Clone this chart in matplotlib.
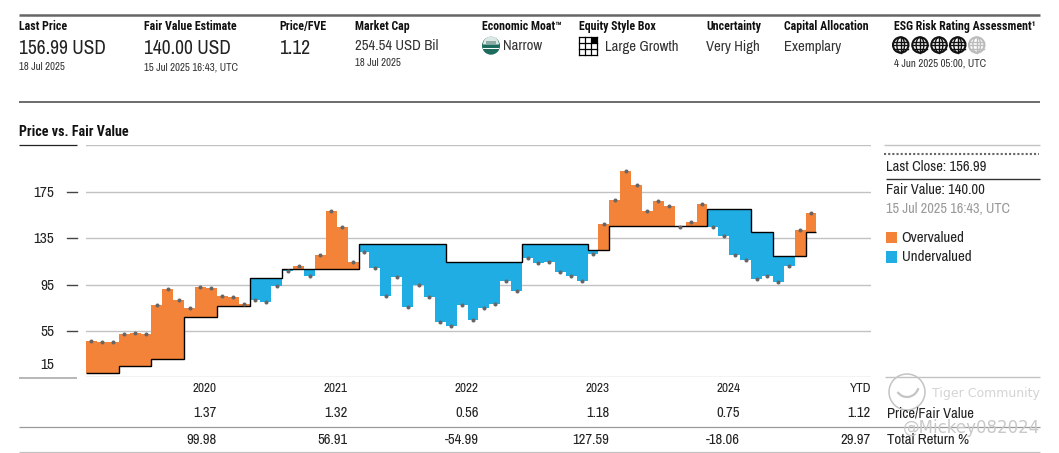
import logging
import matplotlib
matplotlib.use("Agg")
import matplotlib.pyplot as plt
import matplotlib.patches as patches
import numpy as np

logging.getLogger("matplotlib.font_manager").setLevel(logging.ERROR)
plt.rcParams['font.family'] = ['Archivo Narrow', 'Roboto Condensed', 'Roboto', 'DejaVu Sans']
BOLD_FAMILY = ['Roboto Condensed', 'Roboto', 'DejaVu Sans']

# month by month values
price = [46.6, 45.1, 45.1, 52.0, 53.2, 52.0, 77.0, 90.8, 81.6, 74.7, 92.6, 91.7,
         85.4, 84.2, 78.2, 81.4, 79.6, 93.7, 106.4, 110.7, 102.3, 120.4, 158.4, 144.3,
         114.1, 123.3, 108.9, 85.1, 101.8, 75.9, 94.3, 84.5, 63.0, 59.5, 77.0, 64.4,
         74.7, 77.9, 97.7, 89.1, 118.1, 113.8, 114.1, 105.8, 102.6, 98.0, 121.3, 147.4,
         167.8, 192.8, 180.8, 158.4, 167.0, 162.7, 144.6, 148.6, 164.4, 144.3, 137.1, 120.7,
         115.8, 99.5, 102.6, 96.9, 110.7, 141.7, 156.99]
fair_value = [18.4, 18.4, 18.4, 24.7, 24.7, 24.7, 30.8, 30.8, 30.8, 66.7, 66.7, 66.7,
              76.8, 76.8, 76.8, 100.9, 100.9, 100.9, 108.6, 108.6, 108.6, 108.6, 108.6, 108.6,
              108.6, 129.9, 129.9, 129.9, 129.9, 129.9, 129.9, 129.9, 129.9, 114.7, 114.7, 114.7,
              114.7, 114.7, 114.7, 114.7, 129.9, 129.9, 129.9, 129.9, 129.9, 129.9, 124.7, 124.7,
              145.2, 145.2, 145.2, 145.2, 145.2, 145.2, 145.2, 145.2, 145.2, 160.1, 160.1, 160.1,
              160.1, 140.3, 140.3, 119.8, 119.8, 119.8, 140.0]
y_ticks = [15, 55, 95, 135, 175, 215]
y_labels = ["15", "55", "95", "135", "175", ""]

years = ["2020", "2021", "2022", "2023", "2024", "YTD"]
price_fair = ["1.37", "1.32", "0.56", "1.18", "0.75", "1.12"]
total_return = ["99.98", "56.91", "-54.99", "127.59", "-18.06", "29.97"]

ORANGE = "#F4833A"
BLUE = "#1FADE4"
GRID = "#c2c2c2"
W, H = 1059, 453

fig = plt.figure(figsize=(W / 100, H / 100), dpi=100)

# Overlay in pixel coordinates for everything around the chart
over = fig.add_axes([0, 0, 1, 1])
over.set_xlim(0, W)
over.set_ylim(H, 0)
over.axis("off")

# Chart
left, right, top, bottom = 86, 871, 145.3, 377.3
ax = fig.add_axes([left / W, 1 - bottom / H, (right - left) / W, (bottom - top) / H])
ax.patch.set_alpha(0)
ax.set_xlim(0, 72)
ax.set_ylim(15, 215)
for spine in ax.spines.values():
    spine.set_visible(False)
ax.set_xticks([])
ax.set_yticks(y_ticks)
ax.set_yticklabels([])
ax.tick_params(length=0)
ax.grid(axis="y", color=GRID, linewidth=1.0, zorder=0)
ax.set_axisbelow(True)

price = np.array(price)
fair_value = np.array(fair_value)
months = np.arange(len(price))
colors = [ORANGE if p >= f else BLUE for p, f in zip(price, fair_value)]
ax.bar(months, price - fair_value, bottom=fair_value, width=1, align="edge", color=colors, zorder=2)
ax.stairs(fair_value, np.arange(len(price) + 1), color="black", linewidth=1.0, baseline=None, zorder=3)
ax.plot(months + 0.5, price, linestyle="", marker="o", markersize=1.9, color="#666666", zorder=4)

# Axis labels and short dashes, the dashes stand off from the gridlines
dash_trans = ax.get_yaxis_transform()
for value, label in zip(y_ticks, y_labels):
    if not label:
        continue
    offset = -1
    if value == 15:
        offset = 12
    else:
        ax.plot([-19 / 785, -9 / 785], [value, value], transform=dash_trans, color="#444444",
                linewidth=1, clip_on=False)
    ax.annotate(label, (0, value), xycoords=dash_trans, xytext=(-23, offset * 0.72), textcoords="offset points",
                ha="right", va="center", fontsize=11, color="#222222")


def line(x0, x1, y, color=GRID, lw=1.0):
    over.plot([x0, x1], [y, y], color=color, linewidth=lw, solid_capstyle="butt")


# Header
line(19, 1040, 15, color="#666666", lw=1.8)
line(19, 1040, 102, color="#444444", lw=1.1)
line(19, 77, 145, color="#222222", lw=0.9)
line(884, 1040, 145)
line(886, 1040, 179, color="#333333", lw=1.0)
line(19, 77, 377.5, color="#aaaaaa", lw=1.2)
line(885, 1040, 377)
line(19, 1040, 426.7, color="#999999", lw=0.9)
line(19, 1040, 452, color=GRID, lw=0.9)
over.plot([884, 1039], [154.3, 154.3], color="#666666", linewidth=1.5, linestyle=(0, (1, 1)))

for x, title in [(19, "Last Price"), (144.5, "Fair Value Estimate"), (279.5, "Price/FVE"), (355, "Market Cap"),
                 (482.5, "Economic Moat™"), (579, "Equity Style Box"), (706.5, "Uncertainty"),
                 (784, "Capital Allocation"), (894, "ESG Risk Rating Assessment¹")]:
    over.text(x, 26.7, title, fontsize=8.6, family=BOLD_FAMILY, fontweight="bold", ha="left", va="center", color="#111111")
for x, value in [(19, "156.99 USD"), (144.5, "140.00 USD"), (279.5, "1.12")]:
    over.text(x, 48, value, fontsize=14, ha="left", va="center", color="#222222")
for x, value in [(355, "254.54 USD Bil"), (503, "Narrow"), (605, "Large Growth"), (706.5, "Very High"), (784, "Exemplary")]:
    over.text(x, 46.5, value, fontsize=10.6, ha="left", va="center", color="#333333")
for x, y, value in [(19, 67, "18 Jul 2025"), (144.5, 67, "15 Jul 2025 16:43, UTC"), (355, 63, "18 Jul 2025"),
                    (894, 64, "4 Jun 2025 05:00, UTC")]:
    over.text(x, y, value, fontsize=7.8, ha="left", va="center", color="#333333")
over.text(19, 131.7, "Price vs. Fair Value", fontsize=10.2, family=BOLD_FAMILY, fontweight="bold", ha="left", va="center", color="#111111")

# Moat icon
over.add_patch(patches.Circle((491, 45.7), 9, facecolor="#1d6b5c", edgecolor="none"))
over.add_patch(patches.Wedge((491, 44.5), 8, 180, 360, facecolor="#dbe8e5", edgecolor="none"))
over.add_patch(patches.Rectangle((486, 41), 10, 3, facecolor="#8fa9a3", edgecolor="none"))
over.add_patch(patches.Rectangle((483, 47.5), 16, 1.4, facecolor="white", edgecolor="none"))

# Style box, 3x3 with the top right cell filled
over.add_patch(patches.Rectangle((591, 36.5), 6, 6, facecolor="black", edgecolor="none"))
for k in range(4):
    over.plot([579 + 6 * k, 579 + 6 * k], [36.5, 54.5], color="black", linewidth=0.9)
    over.plot([579, 597], [36.5 + 6 * k, 36.5 + 6 * k], color="black", linewidth=0.9)

# ESG globes
for k, cx in enumerate([900.7, 920, 939, 957.7, 976.7]):
    col = "#111111" if k < 4 else "#bbbbbb"
    over.add_patch(patches.Circle((cx, 45), 7.7, facecolor="none", edgecolor=col, linewidth=1.5))
    over.add_patch(patches.Ellipse((cx, 45), 7.7, 15.4, facecolor="none", edgecolor=col, linewidth=1.0))
    over.plot([cx, cx], [37.3, 52.7], color=col, linewidth=1.0)
    for dy in (-3.5, 0, 3.5):
        half = np.sqrt(7.7 ** 2 - dy ** 2)
        over.plot([cx - half, cx + half], [45 + dy, 45 + dy], color=col, linewidth=1.0)

# Right hand panel
over.text(886, 166.7, "Last Close: 156.99", fontsize=10.5, ha="left", va="center", color="#222222")
over.text(886, 190, "Fair Value: 140.00", fontsize=10.5, ha="left", va="center", color="#222222")
over.text(886, 209, "15 Jul 2025 16:43, UTC", fontsize=10.3, ha="left", va="center", color="#9a9a9a")
for y, c, label in [(237.5, ORANGE, "Overvalued"), (257, BLUE, "Undervalued")]:
    over.add_patch(patches.Rectangle((886, y - 5.7), 11.3, 11.4, facecolor=c, edgecolor="none"))
    over.text(901.7, y, label, fontsize=10.8, ha="left", va="center", color="#222222")

# Table under the chart, right edges sit on the year boundaries
for i in range(len(years)):
    x_right = left + 785 / 72 * 12 * (i + 1)
    over.text(x_right, 389, years[i], fontsize=9.5, ha="right", va="center", color="#222222")
    over.text(x_right, 413, price_fair[i], fontsize=10.5, ha="right", va="center", color="#222222")
    over.text(x_right, 440, total_return[i], fontsize=10.5, ha="right", va="center", color="#222222")
over.text(887, 413, "Price/Fair Value", fontsize=10.5, ha="left", va="center", color="#222222")
over.text(887, 440, "Total Return %", fontsize=10.8, ha="left", va="center", color="#222222")

# Watermark
over.add_patch(patches.Circle((907, 392), 18, facecolor="none", edgecolor="#c4c4c4", linewidth=1.1))
over.add_patch(patches.Arc((907, 384), 24, 26, theta1=20, theta2=140, edgecolor="#c4c4c4", linewidth=1.6))
over.text(932, 394, "Tiger Community", fontsize=9, family="DejaVu Sans", ha="left", va="center", color="#d4d4d4")
over.text(903, 428, "@Mickey082024", fontsize=12, family="DejaVu Sans", ha="left", va="center", color="#c9c9c9")

fig.savefig("out.png", dpi=100)
plt.close(fig)
